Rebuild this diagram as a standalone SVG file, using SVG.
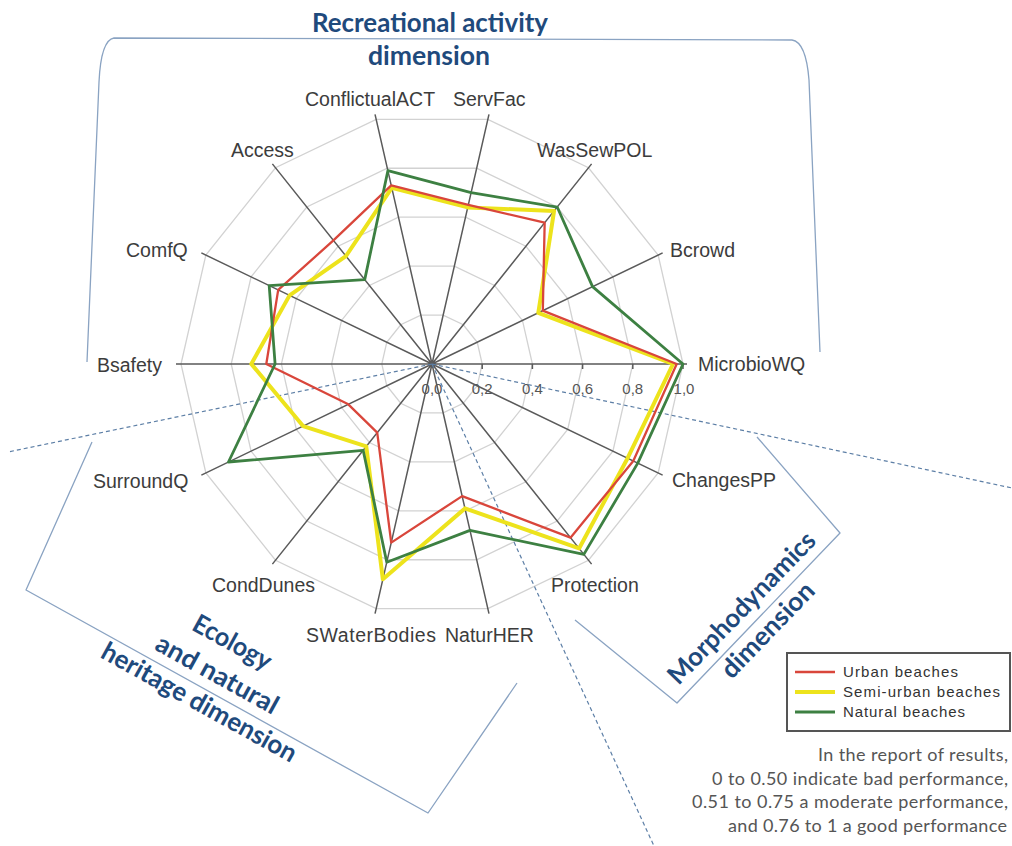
<svg xmlns="http://www.w3.org/2000/svg" width="1012" height="846" viewBox="0 0 1012 846">
<style>
.ring{fill:none;stroke:#d2d2d2;stroke-width:1.3}
.axis{stroke:#5a5a5a;stroke-width:1.5;fill:none}
.tick{font-family:"Liberation Sans",Arial,sans-serif;font-size:15px;fill:#555;text-anchor:middle}
.lab{font-family:"Liberation Sans",Arial,sans-serif;font-size:19.5px;fill:#3c3c3c}
.dash{stroke:#5d7fa6;stroke-width:1.2;stroke-dasharray:4 3;fill:none}
.brk{stroke:#8aa3c2;stroke-width:1.3;fill:none;stroke-linejoin:round}
.dim{font-family:Lato,"Open Sans",sans-serif;font-weight:bold;font-size:26px;fill:#1f4a7c;text-anchor:middle}
.ser{fill:none;stroke-linejoin:round}
.red{stroke:#d9463b;stroke-width:2.3}
.yel{stroke:#ede31c;stroke-width:4}
.grn{stroke:#3d8042;stroke-width:2.8}
.leg{font-family:"Liberation Sans",Arial,sans-serif;font-size:15px;fill:#333}
.note{font-family:Lato,"Open Sans",sans-serif;font-size:18px;fill:#555;text-anchor:end}
</style>
<rect width="1012" height="846" fill="#fff"/>
<g id="grid">
<polygon class="ring" points="683,364 658.14,255.1 588.5,167.76 487.85,119.29 376.15,119.29 275.5,167.76 205.86,255.1 181,364 205.86,472.9 275.5,560.24 376.15,608.71 487.85,608.71 588.5,560.24 658.14,472.9"/>
<polygon class="ring" points="632.8,364 612.91,276.88 557.2,207.01 476.68,168.23 387.32,168.23 306.8,207.01 251.09,276.88 231.2,364 251.09,451.12 306.8,520.99 387.32,559.77 476.68,559.77 557.2,520.99 612.91,451.12"/>
<polygon class="ring" points="582.6,364 567.69,298.66 525.9,246.26 465.51,217.18 398.49,217.18 338.1,246.26 296.31,298.66 281.4,364 296.31,429.34 338.1,481.74 398.49,510.82 465.51,510.82 525.9,481.74 567.69,429.34"/>
<polygon class="ring" points="532.4,364 522.46,320.44 494.6,285.5 454.34,266.12 409.66,266.12 369.4,285.5 341.54,320.44 331.6,364 341.54,407.56 369.4,442.5 409.66,461.88 454.34,461.88 494.6,442.5 522.46,407.56"/>
<polygon class="ring" points="482.2,364 477.23,342.22 463.3,324.75 443.17,315.06 420.83,315.06 400.7,324.75 386.77,342.22 381.8,364 386.77,385.78 400.7,403.25 420.83,412.94 443.17,412.94 463.3,403.25 477.23,385.78"/>
</g>
<g id="tick-labels">
<text class="tick" x="432" y="394">0,0</text>
<text class="tick" x="482.2" y="394">0,2</text>
<text class="tick" x="532.4" y="394">0,4</text>
<text class="tick" x="582.6" y="394">0,6</text>
<text class="tick" x="632.8" y="394">0,8</text>
<text class="tick" x="684" y="394">1,0</text>
</g>
<g id="axes">
<path class="axis" d="M432,364L687,364M432,364L662.65,252.93M432,364L591.61,163.85M432,364L488.97,114.42M432,364L375.03,114.42M432,364L272.39,163.85M432,364L201.35,252.93M432,364L176,364M432,364L201.35,475.07M432,364L272.39,564.15M432,364L375.03,613.58M432,364L488.97,613.58M432,364L591.61,564.15M432,364L662.65,475.07"/>
<path class="axis" d="M482.2,364v5M532.4,364v5M582.6,364v5M632.8,364v5M683,364v5"/>
</g>
<g id="connectors">
<path class="dash" d="M432,364L8,452M432,364L1012,488M432,364L654,846"/>
<path class="brk" d="M87,362L99,82Q101,40 114,38L792,40Q806,42 809,80L820,352"/>
<path class="brk" d="M92,442L26,590L428,813L517,683"/>
<path class="brk" d="M757,437L840,533L677,703L575,620"/>
</g>
<g id="series">
<polygon id="semi-urban" class="ser yel" points="673,364 538.31,312.8 554.08,210.92 467.74,207.43 391.79,187.83 345.93,256.07 289.56,295.4 251.3,364 303.07,426.09 366.28,446.4 382.85,579.36 464.96,508.39 579.08,548.43 627.6,458.2"/>
<polygon id="urban" class="ser red" points="676.7,364 542.82,310.63 544.67,222.72 468.31,204.9 391.23,185.39 333.42,240.39 278.2,289.94 266.3,364 348.3,404.31 377.23,432.68 391.23,542.61 462.15,496.1 570.48,537.65 633.28,460.93"/>
<polygon id="natural" class="ser grn" points="683,364 592.55,286.68 557.2,207.01 471.1,192.71 387.87,170.67 364.73,279.64 269.19,285.6 275.1,364 228.47,462.01 363.17,450.31 386.76,562.2 469.98,530.42 583.82,554.38 637.78,463.1"/>
</g>
<g id="axis-labels">
<text class="lab" x="305" y="106">ConflictualACT</text>
<text class="lab" x="453" y="106">ServFac</text>
<text class="lab" x="537" y="157">WasSewPOL</text>
<text class="lab" x="670" y="257">Bcrowd</text>
<text class="lab" x="698" y="371">MicrobioWQ</text>
<text class="lab" x="672" y="487">ChangesPP</text>
<text class="lab" x="551" y="592">Protection</text>
<text class="lab" x="445" y="642">NaturHER</text>
<text class="lab" x="306" y="642" textLength="130">SWaterBodies</text>
<text class="lab" x="212" y="592">CondDunes</text>
<text class="lab" x="93" y="488">SurroundQ</text>
<text class="lab" x="97" y="372">Bsafety</text>
<text class="lab" x="126" y="257">ComfQ</text>
<text class="lab" x="231" y="157">Access</text>
</g>
<g id="dim-recreational">
<text class="dim" x="430" y="32" textLength="236" lengthAdjust="spacingAndGlyphs">Recreational activity</text>
<text class="dim" x="429" y="65" textLength="122" lengthAdjust="spacingAndGlyphs">dimension</text>
</g>
<g id="dim-ecology">
<text class="dim" transform="translate(228,650) rotate(29)" textLength="86" lengthAdjust="spacingAndGlyphs">Ecology</text>
<text class="dim" transform="translate(213,682) rotate(29)" textLength="136" lengthAdjust="spacingAndGlyphs">and natural</text>
<text class="dim" transform="translate(195,710) rotate(29)" textLength="219" lengthAdjust="spacingAndGlyphs">heritage dimension</text>
</g>
<g id="dim-morpho">
<text class="dim" transform="translate(748,614) rotate(-46)" textLength="200" lengthAdjust="spacingAndGlyphs">Morphodynamics</text>
<text class="dim" transform="translate(774,636) rotate(-46)" textLength="122" lengthAdjust="spacingAndGlyphs">dimension</text>
</g>
<g id="legend">
<rect x="787" y="653" width="223" height="78" fill="#fff" stroke="#555" stroke-width="2"/>
<line x1="795" y1="672" x2="835" y2="672" class="red"/>
<line x1="795" y1="692" x2="835" y2="692" class="yel"/>
<line x1="795" y1="712" x2="835" y2="712" class="grn"/>
<text class="leg" x="843" y="677" textLength="115">Urban beaches</text>
<text class="leg" x="843" y="697" textLength="157">Semi-urban beaches</text>
<text class="leg" x="843" y="717" textLength="122">Natural beaches</text>
</g>
<g id="note">
<text class="note" x="1008" y="761" textLength="190">In the report of results,</text>
<text class="note" x="1008" y="785" textLength="296">0 to 0.50 indicate bad performance,</text>
<text class="note" x="1008" y="808" textLength="316">0.51 to 0.75 a moderate performance,</text>
<text class="note" x="1007" y="832" textLength="279">and 0.76 to 1 a good performance</text>
</g>
</svg>
